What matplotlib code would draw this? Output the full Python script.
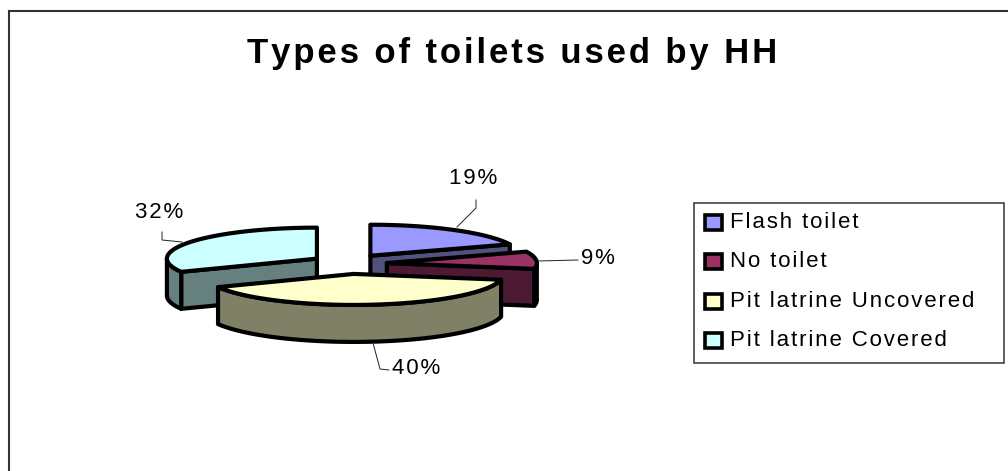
import numpy as np
import matplotlib
matplotlib.use('Agg')
import matplotlib.pyplot as plt
from matplotlib.patches import Polygon, Rectangle

plt.rcParams['font.family'] = ['Liberation Sans', 'DejaVu Sans']

# data
labels = ['Flash toilet', 'No toilet', 'Pit latrine Uncovered', 'Pit latrine Covered']
values = [19, 9, 40, 32]
top_colors = ['#9999FF', '#993366', '#FFFFCC', '#CCFFFF']
side_colors = ['#52527F', '#4D1A33', '#808066', '#668080']
title = 'Types of toilets used by HH'

# geometry in pixels
cx, cy = 349, 264
rx, ry = 150, 31
depth = 37
ex, ey = 38, 10
lw = 3.0


def pt(a, ox, oy):
    r = np.radians(a)
    return ox + rx * np.sin(r), oy - ry * np.cos(r)


def arc(a0, a1, ox, oy, dy=0):
    aa = np.linspace(a0, a1, 80)
    x, y = pt(aa, ox, oy)
    return np.column_stack([x, y + dy])


def spaced(s):
    # the original has wide letter spacing
    return '\u200a'.join(s)


fig = plt.figure(figsize=(10.08, 4.71), dpi=100)
ax = fig.add_axes([0, 0, 1, 1])
ax.set_xlim(0, 1008)
ax.set_ylim(471, 0)
ax.axis('off')

# chart frame, runs off the bottom of the image
ax.plot([8.5, 8.5], [480, 10.5], color='#333333', lw=1.5)
ax.plot([8.5, 1010], [10.5, 10.5], color='#333333', lw=1.5)

ax.text(512, 53, spaced(title), ha='center', va='center', fontsize=25, fontweight='bold')

# wedge start/end angles, clockwise from 12 o'clock
fr = np.array(values) / sum(values) * 360
ends = np.cumsum(fr)
starts = ends - fr

# back wedges first, uncovered in front
for i in [3, 0, 1, 2]:
    a0, a1 = starts[i], ends[i]
    mid = np.radians((a0 + a1) / 2)
    ox = cx + ex * np.sin(mid)
    oy = cy - ey * np.cos(mid)
    apex = np.array([ox, oy])
    kw = dict(fc=side_colors[i], ec='k', lw=lw, joinstyle='round')
    # cut faces
    if a1 < 180:
        p = np.array(pt(a1, ox, oy))
        ax.add_patch(Polygon([apex, p, p + [0, depth], apex + [0, depth]], **kw))
    if a0 > 180:
        p = np.array(pt(a0, ox, oy))
        ax.add_patch(Polygon([apex, p, p + [0, depth], apex + [0, depth]], **kw))
    # outer wall
    b0, b1 = max(a0, 90), min(a1, 270)
    if b1 > b0:
        ax.add_patch(Polygon(np.vstack([arc(b0, b1, ox, oy), arc(b1, b0, ox, oy, depth)]), **kw))
    # top
    ax.add_patch(Polygon(np.vstack([apex, arc(a0, a1, ox, oy)]), fc=top_colors[i], ec='k',
                         lw=lw, joinstyle='round'))

# data labels with leader lines
ax.plot([457, 476, 476], [227, 208, 200], color='#222222', lw=0.7)
ax.plot([538, 578], [261, 260], color='#222222', lw=0.7)
ax.plot([373, 380, 389], [343, 369, 370], color='#222222', lw=0.7)
ax.plot([182, 162, 162], [242, 240, 232], color='#222222', lw=0.7)
ax.text(473, 179, spaced('%d%%' % values[0]), ha='center', va='center', fontsize=16)
ax.text(598, 259, spaced('%d%%' % values[1]), ha='center', va='center', fontsize=16)
ax.text(416, 368, spaced('%d%%' % values[2]), ha='center', va='center', fontsize=16)
ax.text(159, 213, spaced('%d%%' % values[3]), ha='center', va='center', fontsize=16)

# legend
ax.add_patch(Rectangle((693.5, 202.5), 310, 160, fc='white', ec='#333333', lw=1.1))
for i, name in enumerate(labels):
    y = 222 + i * 39.6
    ax.add_patch(Rectangle((705, y - 7.5), 17, 15, fc=top_colors[i], ec='k', lw=2.6))
    ax.text(730, y, spaced(name), ha='left', va='center', fontsize=16)

fig.savefig('out.png', dpi=100)
